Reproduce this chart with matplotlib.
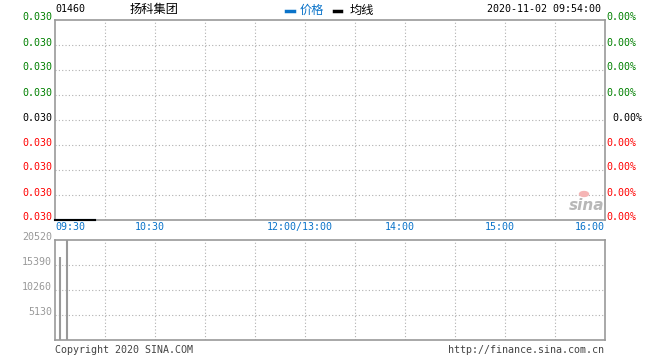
"""
Intraday chart (Sina style) for 01460 扬科集团, 2020-11-02.
"""

import matplotlib
matplotlib.use("Agg")
import matplotlib.pyplot as plt
import numpy as np

# ---- data ----
code = "01460"
name = "扬科集团"
stamp = "2020-11-02 09:54:00"
prev_close = 0.030
price_low, price_high = 0.030, 0.030001

minutes = list(range(25))            # 09:30 .. 09:54
price = [0.030] * 25
avg_price = [0.030] * 25

vol_minutes = [3, 7]
vol_values = [17000, 20520]
vol_max = 20520

time_ticks = [0, 60, 150, 210, 270, 330]
time_labels = ["09:30", "10:30", "12:00/13:00", "14:00", "15:00", "16:00"]

# ---- figure ----
W, H = 660, 360
fig = plt.figure(figsize=(W / 100, H / 100), dpi=100)
fig.patch.set_facecolor("white")

MONO = "DejaVu Sans Mono"
CJK = ["Noto Sans CJK SC", "DejaVu Sans"]
GRID = dict(color="#b0b0b0", lw=0.8, linestyle=(0, (1, 2)))
SPINE = "#999999"


def fx(px):
    return px / W


def fy(py):
    return 1 - py / H


ax = fig.add_axes([fx(55), fy(220), fx(605) - fx(55), fy(20) - fy(220)])
axv = fig.add_axes([fx(55), fy(340), fx(605) - fx(55), fy(240) - fy(340)])

for a in (ax, axv):
    a.set_xlim(0, 330)
    a.set_xticks([])
    a.set_yticks([])
    for s in a.spines.values():
        s.set_color(SPINE)
        s.set_linewidth(1.2)
    for m in range(30, 330, 30):
        a.axvline(m, **GRID, zorder=0)

# price panel
ax.set_ylim(price_low, price_high)
pticks = np.linspace(price_low, price_high, 9)
for t in pticks[1:-1]:
    ax.axhline(t, **GRID, zorder=0)
ax.plot(minutes, price, color="#0a73c9", lw=1.5, zorder=3, clip_on=False)
ax.plot(minutes, avg_price, color="black", lw=1.5, zorder=4, clip_on=False)

for i, t in enumerate(pticks):
    if i > 4:
        col = "#008000"
    elif i == 4:
        col = "black"
    else:
        col = "#ff0000"
    ypx = ax.transData.transform((0, t))[1]
    yy = ypx / H + 2.5 / H
    fig.text(fx(52), yy, f"{t:.3f}", ha="right", va="center",
             family=MONO, fontsize=7.2, color=col)
    pct = (t - prev_close) / prev_close * 100
    xoff = 612 if i == 4 else 606
    fig.text(fx(xoff), yy, f"{abs(pct):.2f}%", ha="left", va="center",
             family=MONO, fontsize=7.2, color=col)

for m, lab in zip(time_ticks, time_labels):
    xp = 55 + m * 550 / 330
    if m == 0:
        fig.text(fx(55), fy(227), lab, ha="left", va="center",
                 family=MONO, fontsize=7.2, color="#0a73c9")
    elif m == 330:
        fig.text(fx(605), fy(227), lab, ha="right", va="center",
                 family=MONO, fontsize=7.2, color="#0a73c9")
    else:
        fig.text(fx(xp - 5), fy(227), lab, ha="center", va="center",
                 family=MONO, fontsize=7.2, color="#0a73c9")

# volume panel
axv.set_ylim(0, vol_max)
vticks = [vol_max * k / 4 for k in range(1, 5)]
for t in vticks[:-1]:
    axv.axhline(t, **GRID, zorder=0)
axv.vlines(vol_minutes, 0, vol_values, color="#999999", lw=1.5, zorder=3)
for t in vticks:
    ypx = axv.transData.transform((0, t))[1]
    fig.text(fx(52), ypx / H + 3 / H, f"{int(t)}", ha="right", va="center",
             family=MONO, fontsize=7.2, color="#999999")

# header
fig.text(fx(55), fy(9), code, ha="left", va="center",
         family=MONO, fontsize=7.2, color="black")
fig.text(fx(130), fy(9), name, ha="left", va="center",
         family=CJK, fontsize=8.8, color="black")
fig.add_artist(plt.Line2D([fx(286), fx(294)], [fy(11), fy(11)],
                          color="#0a73c9", lw=2.5))
fig.text(fx(300), fy(10), "价格", ha="left", va="center",
         family=CJK, fontsize=8.8, color="#0a73c9")
fig.add_artist(plt.Line2D([fx(334), fx(341)], [fy(11), fy(11)],
                          color="black", lw=2.5))
fig.text(fx(350), fy(10), "均线", ha="left", va="center",
         family=CJK, fontsize=8.8, color="black")
fig.text(fx(601), fy(9), stamp, ha="right", va="center",
         family=MONO, fontsize=7.2, color="black")

# footer
fig.text(fx(55), fy(350), "Copyright 2020 SINA.COM", ha="left", va="center",
         family=MONO, fontsize=7.2, color="#444444")
fig.text(fx(604), fy(350), "http://finance.sina.com.cn", ha="right",
         va="center", family=MONO, fontsize=7.2, color="#444444")

# sina watermark
fig.text(fx(569), fy(205), "sina", ha="left", va="center", family="DejaVu Sans",
         fontsize=11, fontweight="bold", style="italic", color="#b8b8b8")
fig.add_artist(plt.Circle((fx(584), fy(194)), 4.5 / W, color="#f5b5b5",
                          transform=fig.transFigure))

fig.savefig("out.png", dpi=100)
